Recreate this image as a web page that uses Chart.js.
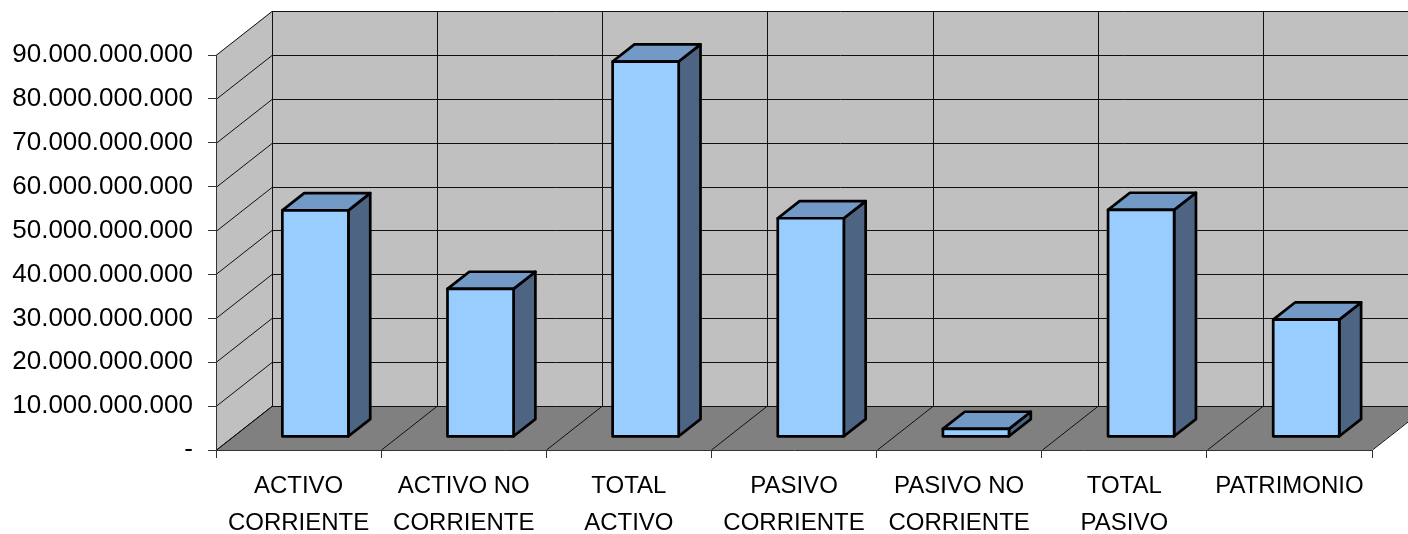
<!DOCTYPE html>
<html>
<head>
<meta charset="utf-8">
<script src="https://cdn.jsdelivr.net/npm/chart.js@4.4.1/dist/chart.umd.min.js"></script>
<style>
    body { margin: 0; background: #fff; }
</style>
</head>
<body>
<canvas id="balance" width="1408" height="534"></canvas>
<script>
// BALANCE - 3D columns
const categories = [
    ['ACTIVO', 'CORRIENTE'],
    ['ACTIVO NO', 'CORRIENTE'],
    ['TOTAL', 'ACTIVO'],
    ['PASIVO', 'CORRIENTE'],
    ['PASIVO NO', 'CORRIENTE'],
    ['TOTAL', 'PASIVO'],
    'PATRIMONIO',
]

const values = [51600000000, 33700000000, 85500000000, 49800000000, 1800000000, 51700000000, 26700000000]

const yTicks = [0, 10000000000, 20000000000, 30000000000, 40000000000, 50000000000, 60000000000, 70000000000, 80000000000, 90000000000]

// oblique depth of the box and where the columns sit inside it
const DEPTH_X = 56
const DEPTH_Y = 44
const BAR_FRONT = 0.3
const BAR_BACK = 0.69

const FONT = "'Liberation Sans', Arial, sans-serif"

const formatTick = (value) => {
    if (value === 0) return '-'
    return String(value).replace(/\B(?=(\d{3})+(?!\d))/g, '.')
}

const polygon = (ctx, points, fill) => {
    ctx.beginPath()
    points.forEach(([px, py], i) => i ? ctx.lineTo(px, py) : ctx.moveTo(px, py))
    ctx.closePath()
    ctx.fillStyle = fill
    ctx.fill()
}

// back wall, side wall, floor and their grid lines
const wallsPlugin = {
    id: 'walls',
    beforeDraw: (chart) => {
        const { ctx, chartArea, scales: { x, y } } = chart
        const left = chartArea.left
        const right = chartArea.right
        const top = y.getPixelForValue(yTicks[yTicks.length - 1])
        const base = y.getPixelForValue(0)

        ctx.save()
        ctx.fillStyle = '#fff'
        ctx.fillRect(0, 0, chart.width, chart.height)

        polygon(ctx, [[left + DEPTH_X, top - DEPTH_Y], [right + DEPTH_X, top - DEPTH_Y],
            [right + DEPTH_X, base - DEPTH_Y], [left + DEPTH_X, base - DEPTH_Y]], '#C0C0C0')
        polygon(ctx, [[left, top], [left + DEPTH_X, top - DEPTH_Y],
            [left + DEPTH_X, base - DEPTH_Y], [left, base]], '#C0C0C0')
        polygon(ctx, [[left, base], [right, base],
            [right + DEPTH_X, base - DEPTH_Y], [left + DEPTH_X, base - DEPTH_Y]], '#808080')

        ctx.strokeStyle = '#111'
        ctx.lineWidth = 1
        ctx.beginPath()
        yTicks.forEach(v => {
            const py = Math.round(y.getPixelForValue(v)) + 0.5
            ctx.moveTo(left, py)
            ctx.lineTo(left + DEPTH_X, py - DEPTH_Y)
            ctx.lineTo(right + DEPTH_X, py - DEPTH_Y)
        })
        for (let i = 0; i <= categories.length; i++) {
            const bx = Math.round(x.getPixelForValue(i - 0.5)) + 0.5
            ctx.moveTo(bx, base)
            ctx.lineTo(bx + DEPTH_X, base - DEPTH_Y)
            ctx.lineTo(bx + DEPTH_X, top - DEPTH_Y)
        }
        ctx.stroke()
        ctx.restore()
    },
    afterDatasetsDraw: (chart) => {
        const { ctx } = chart
        const dx = (BAR_BACK - BAR_FRONT) * DEPTH_X
        const dy = (BAR_BACK - BAR_FRONT) * DEPTH_Y

        ctx.save()
        ctx.lineWidth = 2.7
        ctx.lineJoin = 'round'
        ctx.strokeStyle = '#000'
        chart.getDatasetMeta(0).data.forEach(bar => {
            const { x, y, base, width } = bar.getProps(['x', 'y', 'base', 'width'], true)
            const l = x - width / 2 + BAR_FRONT * DEPTH_X
            const r = l + width
            const t = y - BAR_FRONT * DEPTH_Y
            const b = base - BAR_FRONT * DEPTH_Y

            const faces = [
                [[[r, t], [r + dx, t - dy], [r + dx, b - dy], [r, b]], '#4D6482'],
                [[[l, t], [l + dx, t - dy], [r + dx, t - dy], [r, t]], '#7399C6'],
                [[[l, t], [r, t], [r, b], [l, b]], '#99CCFF'],
            ]
            faces.forEach(([points, fill]) => {
                polygon(ctx, points, fill)
                ctx.stroke()
            })
        })
        ctx.restore()
    }
}

new Chart(document.getElementById('balance'), {
    type: 'bar',
    data: {
        labels: categories,
        datasets: [{
            data: values,
            backgroundColor: 'rgba(0, 0, 0, 0)',
            borderWidth: 0,
            categoryPercentage: 1,
            barPercentage: 0.4,
        }]
    },
    plugins: [wallsPlugin],
    options: {
        responsive: false,
        animation: false,
        plugins: {
            legend: { display: false },
            tooltip: { enabled: false },
        },
        layout: {
            padding: { top: 55, right: 36, left: 0, bottom: 0 }
        },
        scales: {
            x: {
                afterFit: (scale) => { scale.height = 84 },
                grid: {
                    offset: true,
                    drawOnChartArea: false,
                    tickLength: 8,
                    color: '#333',
                },
                border: { color: '#333' },
                ticks: {
                    color: '#000',
                    padding: 10,
                    maxRotation: 0,
                    autoSkip: false,
                    font: { family: FONT, size: 24, lineHeight: 1.55 },
                },
            },
            y: {
                min: 0,
                max: 90000000000,
                afterFit: (scale) => { scale.width = 216 },
                afterBuildTicks: (scale) => { scale.ticks = yTicks.map(v => ({ value: v })) },
                grid: {
                    drawOnChartArea: false,
                    tickLength: 8,
                    color: '#333',
                },
                border: { color: '#333' },
                ticks: {
                    color: '#000',
                    padding: 15,
                    font: { family: FONT, size: 26 },
                    callback: formatTick,
                },
            }
        }
    }
})
</script>
</body>
</html>
